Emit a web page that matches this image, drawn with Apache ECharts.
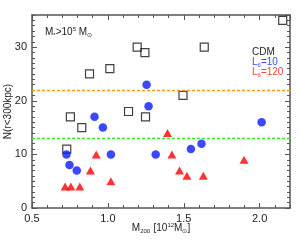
<!DOCTYPE html>
<html>
<head>
<meta charset="utf-8">
<script src="https://cdn.jsdelivr.net/npm/echarts@6/dist/echarts.min.js"></script>
<style>html,body{margin:0;padding:0;background:#fff}#c{width:300px;height:240px}</style>
</head>
<body>
<div id="c"></div>
<script>
// Data
const cdmX  = [0.729, 0.753, 0.828, 0.879, 1.013, 1.136, 1.193, 1.244, 1.248, 1.495, 1.635, 2.152];
const cdmY  = [11, 17, 15, 25, 26, 18, 30, 29, 17, 21, 30, 35];
const l10X  = [0.727, 0.747, 0.795, 0.912, 0.967, 1.020, 1.255, 1.268, 1.315, 1.547, 1.617, 2.013];
const l10Y  = [10, 8, 7, 17, 15, 10, 23, 19, 10, 11, 12, 16];
const l120X = [0.718, 0.756, 0.815, 0.885, 0.923, 1.020, 1.393, 1.422, 1.472, 1.521, 1.629, 1.897];
const l120Y = [4, 4, 4, 7, 10, 5, 14, 10, 7, 6, 6, 9];
const hLineOrange = 22;
const hLineGreen = 13;
const xMin = 0.5, xMax = 2.2, xMajor = 0.5, xMinor = 0.1;
const yMin = 0, yMax = 36, yMajor = 10, yMinor = 1;
const legendLabels = ['CDM', 'L_6=10', 'L_6=120'];

const FONT = 'Liberation Sans, Arial, sans-serif';
const frame = '#555';
function pair(xs, ys) { return xs.map((x, i) => [x, ys[i]]); }

function xAx(pos, interval, len, line) {
  return {
    type: 'value', position: pos, min: xMin, max: xMax, interval: interval,
    axisLine: { show: line, onZero: false, lineStyle: { color: frame, width: 1.5 } },
    axisTick: { show: true, inside: true, length: len, lineStyle: { color: frame, width: 1 } },
    axisLabel: { show: false },
    splitLine: { show: false }
  };
}
function yAx(pos, interval, len, line) {
  return {
    type: 'value', position: pos, min: yMin, max: yMax, interval: interval,
    axisLine: { show: line, onZero: false, lineStyle: { color: frame, width: 1.5 } },
    axisTick: { show: true, inside: true, length: len, lineStyle: { color: frame, width: 1 } },
    axisLabel: { show: false },
    splitLine: { show: false }
  };
}

const xAxes = [
  xAx('bottom', xMajor, 5, true),
  xAx('bottom', xMinor, 3, false),
  xAx('top', xMajor, 5, true),
  xAx('top', xMinor, 3, false)
];
xAxes[0].axisLabel = { show: true, showMaxLabel: false, color: '#222', fontSize: 11, fontFamily: FONT, margin: 5,
  formatter: v => v.toFixed(1) };
xAxes[0].name = '{t|M}{s|200} {t|[10}{p|12}{t|M}{s|⊙}{t|]}';
xAxes[0].nameLocation = 'middle';
xAxes[0].nameGap = 14;
xAxes[0].nameMoveOverlap = false;
xAxes[0].nameTextStyle = { color: '#222', fontFamily: FONT, rich: {
  t: { fontSize: 10, fontFamily: FONT, color: '#222' },
  s: { fontSize: 6, fontFamily: FONT, color: '#222', verticalAlign: 'bottom', padding: [6, 0, 0, 0] },
  p: { fontSize: 6, fontFamily: FONT, color: '#222', verticalAlign: 'top', padding: [0, 0, 5, 0] }
}};

const yAxes = [
  yAx('left', yMajor, 5, true),
  yAx('left', yMinor, 3, false),
  yAx('right', yMajor, 5, true),
  yAx('right', yMinor, 3, false)
];
yAxes[0].axisLabel = { show: true, showMaxLabel: false, color: '#222', fontSize: 11, fontFamily: FONT, margin: 5 };
yAxes[0].name = 'N(r<300kpc)';
yAxes[0].nameLocation = 'middle';
yAxes[0].nameGap = 19;
yAxes[0].nameMoveOverlap = false;
yAxes[0].nameTextStyle = { color: '#222', fontSize: 10, fontFamily: FONT };

const chart = echarts.init(document.getElementById('c'), null, { renderer: 'canvas' });
chart.setOption({
  animation: false,
  backgroundColor: '#fff',
  grid: { left: 32, right: 10, top: 15, bottom: 32, containLabel: false, outerBoundsMode: 'none' },
  xAxis: xAxes,
  yAxis: yAxes,
  series: [
    {
      type: 'scatter', xAxisIndex: 0, yAxisIndex: 0, data: pair(cdmX, cdmY),
      symbol: 'rect', symbolSize: 8,
      itemStyle: { color: 'rgba(0,0,0,0)', borderColor: '#111', borderWidth: 1.2 },
      markLine: {
        silent: true, symbol: 'none', label: { show: false },
        data: [
          { yAxis: hLineOrange, lineStyle: { color: '#ff9a00', type: [3, 2], width: 1.3 } },
          { yAxis: hLineGreen, lineStyle: { color: '#33ee22', type: [3, 2], width: 1.3 } }
        ]
      }
    },
    {
      type: 'scatter', xAxisIndex: 0, yAxisIndex: 0, data: pair(l10X, l10Y),
      symbol: 'circle', symbolSize: 8.5,
      itemStyle: { color: '#0a1aff' }
    },
    {
      type: 'scatter', xAxisIndex: 0, yAxisIndex: 0, data: pair(l120X, l120Y),
      symbol: 'triangle', symbolSize: [9, 8],
      itemStyle: { color: '#ff0000' }
    }
  ],
  graphic: [
    { type: 'text', left: 45, top: 26, style: {
      text: '{t|M}{s|*}{t|>10}{p|5}{t| M}{s|⊙}', fontFamily: FONT,
      rich: {
        t: { fontSize: 10, fontFamily: FONT, fill: '#222' },
        s: { fontSize: 6, fontFamily: FONT, fill: '#222', verticalAlign: 'bottom', padding: [6, 0, 0, 0] },
        p: { fontSize: 6, fontFamily: FONT, fill: '#222', verticalAlign: 'top', padding: [0, 0, 5, 0] }
      } } },
    { type: 'text', left: 252, top: 47, style: { text: legendLabels[0], fontSize: 10, fontFamily: FONT, fill: '#222' } },
    { type: 'text', left: 252, top: 57, style: {
      text: '{t|L}{s|6}{t|=10}', fontFamily: FONT,
      rich: {
        t: { fontSize: 10, fontFamily: FONT, fill: '#3a48ff' },
        s: { fontSize: 6, fontFamily: FONT, fill: '#3a48ff', verticalAlign: 'bottom', padding: [6, 0, 0, 0] }
      } } },
    { type: 'text', left: 252, top: 67, style: {
      text: '{t|L}{s|6}{t|=120}', fontFamily: FONT,
      rich: {
        t: { fontSize: 10, fontFamily: FONT, fill: '#ff4040' },
        s: { fontSize: 6, fontFamily: FONT, fill: '#ff4040', verticalAlign: 'bottom', padding: [6, 0, 0, 0] }
      } } }
  ]
});
</script>
</body>
</html>
